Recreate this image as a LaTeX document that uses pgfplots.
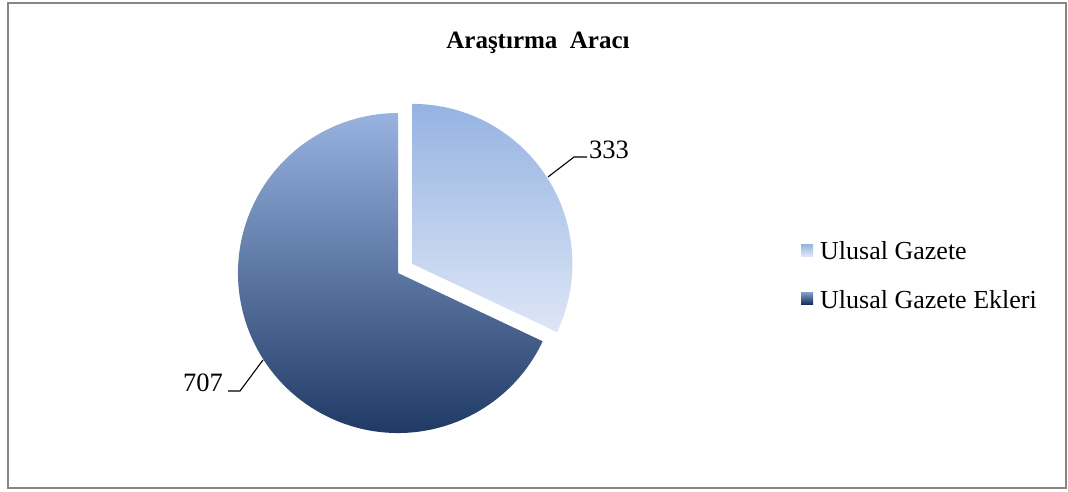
\documentclass[border=0pt]{standalone}
\usepackage{pgfplots}
\usepackage{pgfplotstable}
\pgfplotsset{compat=1.18}
\usepackage{fontspec}
\setmainfont{Liberation Serif}

\definecolor{smtop}{RGB}{149,179,226}
\definecolor{smbot}{RGB}{222,230,246}
\definecolor{bgtop}{RGB}{152,179,224}
\definecolor{bgbot}{RGB}{22,50,92}
\definecolor{frame}{RGB}{134,134,134}

\pgfplotstableread{
label value
{Ulusal Gazete} 333
{Ulusal Gazete Ekleri} 707
}\piedata

\pgfplotstablegetelem{0}{value}\of\piedata \let\va\pgfplotsretval
\pgfplotstablegetelem{1}{value}\of\piedata \let\vb\pgfplotsretval
\pgfmathsetmacro{\angA}{\va/(\va+\vb)*360}
\pgfmathsetmacro{\endA}{90-\angA}
\pgfmathsetmacro{\midA}{90-\angA/2}
\pgfmathsetmacro{\exX}{398+17*cos(\midA)}
\pgfmathsetmacro{\exY}{218+17*sin(\midA)}

\begin{document}
\begin{tikzpicture}
\begin{axis}[
  scale only axis, width=1068pt, height=491pt,
  xmin=0, xmax=1068, ymin=0, ymax=491,
  enlargelimits=false, hide axis, clip=false]
  \path (axis cs:0,0) rectangle (axis cs:1068,491);
  % frame
  \draw[frame, line width=1.6pt] (axis cs:8,3) rectangle (axis cs:1066,488);
  % title
  \node[anchor=base, font=\fontsize{25}{30}\selectfont\bfseries] at (axis cs:538,442) {Araştırma~~Aracı};
  % big slice (707)
  \shade[top color=bgtop, bottom color=bgbot]
    (axis cs:398,218) -- ++(\endA:160pt) arc[start angle=\endA, end angle=-270, radius=160pt] -- cycle;
  % small slice (333), exploded
  \shade[top color=smtop, bottom color=smbot]
    (axis cs:\exX,\exY) -- ++(90:160pt) arc[start angle=90, end angle=\endA, radius=160pt] -- cycle;
  % leader lines and labels
  \draw[black, line width=1.1pt] (axis cs:548,314) -- (axis cs:574,334) -- (axis cs:587,334);
  \node[anchor=base west, inner sep=0pt, font=\fontsize{26.5}{30}\selectfont] at (axis cs:589,333) {\va};
  \draw[black, line width=1.1pt] (axis cs:228,100) -- (axis cs:240,100) -- (axis cs:263,131);
  \node[anchor=base east, inner sep=0pt, font=\fontsize{26.5}{30}\selectfont] at (axis cs:223,100) {\vb};
  % legend
  \shade[top color=smtop, bottom color=smbot] (axis cs:801,247) rectangle (axis cs:813,235);
  \node[anchor=base west, inner sep=0pt, font=\fontsize{26}{30}\selectfont] at (axis cs:820,232) {Ulusal Gazete};
  \shade[top color=bgtop!85!bgbot, bottom color=bgbot] (axis cs:801,199) rectangle (axis cs:813,187);
  \node[anchor=base west, inner sep=0pt, font=\fontsize{26}{30}\selectfont] at (axis cs:820,183) {Ulusal Gazete Ekleri};
\end{axis}
\end{tikzpicture}
\end{document}
